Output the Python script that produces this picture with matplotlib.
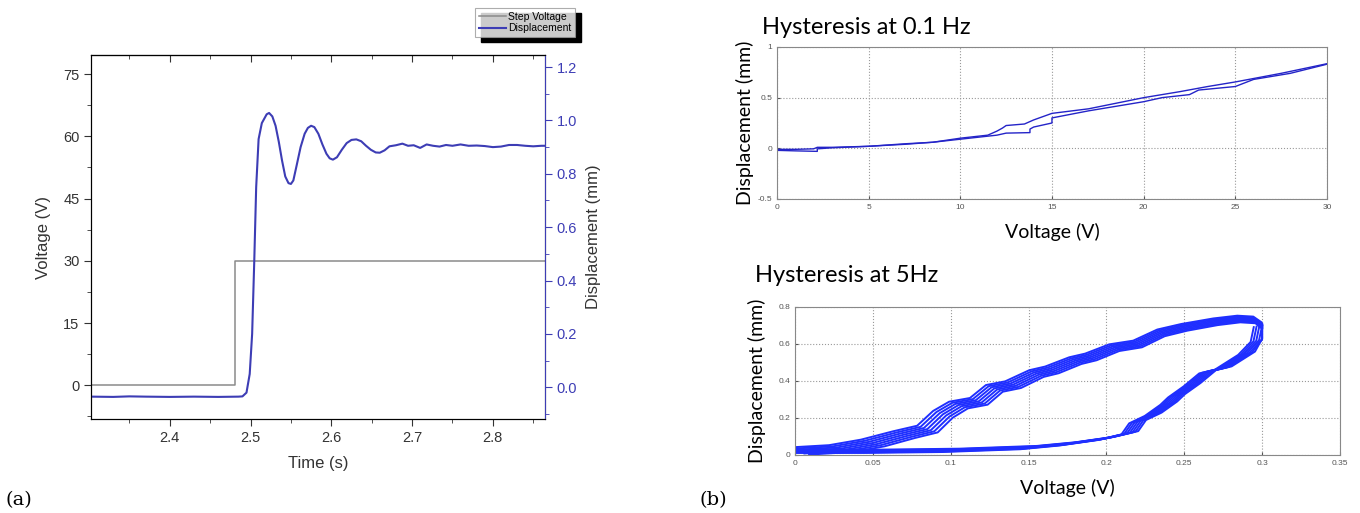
import matplotlib.pyplot as plt
import numpy as np
from matplotlib.patches import Rectangle
from matplotlib.transforms import IdentityTransform
from matplotlib.ticker import MultipleLocator

# ---- panel (a): step response ----
step_t = [2.303, 2.4806, 2.4806, 2.865]
step_v = [0, 0, 30, 30]

disp_t = [2.303, 2.33, 2.35, 2.37, 2.40, 2.43, 2.46, 2.485, 2.490, 2.495, 2.499,
          2.502, 2.5046, 2.507, 2.510, 2.514, 2.520, 2.523, 2.527, 2.531, 2.535,
          2.539, 2.543, 2.547, 2.550, 2.553, 2.557, 2.562, 2.567, 2.571, 2.575,
          2.579, 2.584, 2.589, 2.594, 2.598, 2.602, 2.607, 2.613, 2.619, 2.625,
          2.631, 2.637, 2.643, 2.649, 2.655, 2.660, 2.666, 2.672, 2.680, 2.688,
          2.695, 2.702, 2.710, 2.718, 2.726, 2.734, 2.742, 2.750, 2.760, 2.770,
          2.780, 2.790, 2.800, 2.810, 2.820, 2.830, 2.840, 2.850, 2.860, 2.865]
disp_mm = [-0.035, -0.036, -0.034, -0.035, -0.036, -0.035, -0.036, -0.035, -0.034,
           -0.02, 0.05, 0.20, 0.47, 0.75, 0.93, 0.99, 1.023, 1.028, 1.015, 0.98,
           0.92, 0.85, 0.79, 0.765, 0.762, 0.775, 0.83, 0.90, 0.95, 0.972, 0.98,
           0.975, 0.95, 0.91, 0.875, 0.858, 0.853, 0.862, 0.89, 0.915, 0.927,
           0.929, 0.922, 0.905, 0.89, 0.88, 0.879, 0.888, 0.903, 0.907, 0.913,
           0.905, 0.907, 0.897, 0.91, 0.905, 0.902, 0.908, 0.905, 0.91, 0.905,
           0.906, 0.904, 0.90, 0.902, 0.908, 0.908, 0.905, 0.903, 0.905, 0.905]

# ---- panel (b) top: hysteresis at 0.1 Hz ----
slow_up_v = [0, 1, 2, 2.2, 3, 5, 7, 8.5, 10, 11.5, 12, 12.3, 12.5, 13.5, 14,
             15, 17, 20, 22, 23.5, 25, 27.5, 30]
slow_up_d = [-0.01, -0.01, -0.005, 0.01, 0.01, 0.02, 0.04, 0.06, 0.10, 0.13,
             0.17, 0.2, 0.225, 0.24, 0.28, 0.345, 0.39, 0.50, 0.56, 0.61, 0.655,
             0.74, 0.835]
slow_dn_v = [30, 28, 26, 25, 23, 22.5, 21, 20, 17, 15, 15, 14, 13.8, 13.8, 12.5,
             12, 10, 8.5, 7, 5, 3, 2.2, 2.2, 1, 0]
slow_dn_d = [0.83, 0.74, 0.68, 0.61, 0.575, 0.53, 0.5, 0.46, 0.37, 0.30, 0.25,
             0.21, 0.19, 0.155, 0.15, 0.13, 0.09, 0.06, 0.045, 0.02, 0.005,
             -0.005, -0.03, -0.025, -0.02]

# ---- panel (b) bottom: hysteresis at 5 Hz ----
fast_up_v = [0.0, 0.03, 0.05, 0.07, 0.085, 0.095, 0.105, 0.118, 0.128, 0.14,
             0.155, 0.165, 0.18, 0.19, 0.205, 0.22, 0.235, 0.25, 0.27, 0.285,
             0.295, 0.30]
fast_up_d = [0.02, 0.035, 0.065, 0.11, 0.14, 0.22, 0.27, 0.29, 0.36, 0.38, 0.44,
             0.46, 0.51, 0.53, 0.58, 0.60, 0.66, 0.69, 0.72, 0.735, 0.73, 0.70]
fast_dn_v = [0.30, 0.298, 0.29, 0.275, 0.265, 0.255, 0.245, 0.24, 0.23, 0.22,
             0.215, 0.20, 0.175, 0.15, 0.10, 0.05, 0.0]
fast_dn_d = [0.70, 0.62, 0.55, 0.47, 0.45, 0.38, 0.32, 0.28, 0.22, 0.18, 0.12,
             0.09, 0.06, 0.04, 0.025, 0.02, 0.02]
# per-cycle drift of the 5 Hz loop (volts, mm)
cycle_dx = [-0.009, -0.006, -0.003, 0.0, 0.003, 0.006, 0.009]
cycle_dy = [0.018, 0.012, 0.006, 0.0, -0.006, -0.012, -0.018]

fig = plt.figure(figsize=(13.6, 5.13), dpi=100)
plt.rcParams['font.family'] = ['Liberation Sans', 'DejaVu Sans']

axa = fig.add_axes([0.0672, 0.1826, 0.3338, 0.7101])
axb = axa.twinx()
purple = '#3d3db5'
l1, = axa.plot(step_t, step_v, color='#8a8a8a', lw=1.1, label='Step Voltage')
l2, = axb.plot(disp_t, disp_mm, color=purple, lw=1.5, label='Displacement')
axa.set_xlim(2.303, 2.865)
axa.set_ylim(-8.2, 79.6)
axb.set_ylim(-0.12, 1.245)
axa.xaxis.set_major_locator(MultipleLocator(0.1))
axa.xaxis.set_minor_locator(MultipleLocator(0.05))
axa.yaxis.set_major_locator(MultipleLocator(15))
axa.yaxis.set_minor_locator(MultipleLocator(7.5))
axb.yaxis.set_major_locator(MultipleLocator(0.2))
axb.yaxis.set_minor_locator(MultipleLocator(0.1))
axa.tick_params(axis='both', which='both', labelsize=10.5, colors='#333333', direction='out')
axa.tick_params(which='major', length=5)
axa.tick_params(which='minor', length=3)
top = axa.secondary_xaxis('top')
top.xaxis.set_major_locator(MultipleLocator(0.1))
top.xaxis.set_minor_locator(MultipleLocator(0.05))
top.tick_params(which='both', direction='in', labeltop=False, colors='#333333')
top.tick_params(which='major', length=5)
top.tick_params(which='minor', length=3)
axb.tick_params(axis='y', which='both', colors=purple, labelsize=10.5, direction='out', pad=3)
axb.tick_params(which='major', length=5)
axb.tick_params(which='minor', length=3)
axb.spines['right'].set_color(purple)
axa.set_xlabel('Time (s)', fontsize=12, color='#333333')
axa.set_ylabel('Voltage (V)', fontsize=12, color='#333333')
axb.set_ylabel('Displacement (mm)', fontsize=12, color='#333333')
axa.xaxis.set_label_coords(0.5, -0.12)
axa.xaxis.label.set_va('center')
axa.yaxis.set_label_coords(-0.105, 0.5)
axa.yaxis.label.set_va('center')
axb.yaxis.set_label_coords(1.105, 0.5)
axb.yaxis.label.set_va('center')

leg = fig.legend(handles=[l1, l2], loc='upper left', bbox_to_anchor=(0.3493, 0.9844),
                 borderaxespad=0, fontsize=7.5, frameon=True, fancybox=False,
                 handlelength=2.6, handletextpad=0.2, borderpad=0.35, labelspacing=0.15)
leg.get_frame().set_edgecolor('#999999')
leg.get_frame().set_linewidth(0.8)
leg.set_zorder(5)

blue = '#1f2fff'

ax1 = fig.add_axes([0.5713, 0.6121, 0.4044, 0.2963])
ax1.plot(slow_up_v, slow_up_d, color='#2424c8', lw=1.0)
ax1.plot(slow_dn_v, slow_dn_d, color='#2424c8', lw=1.0)
ax1.set_xlim(0, 30)
ax1.set_ylim(-0.5, 1)
ax1.set_xticks([0, 5, 10, 15, 20, 25, 30])
ax1.set_yticks([-0.5, 0, 0.5, 1])
ax1.set_yticklabels(['-0.5', '0', '0.5', '1'])
ax1.grid(True, linestyle=':', color='#999999', lw=0.8)

ax2 = fig.add_axes([0.5846, 0.1131, 0.4007, 0.2885])
up_v = np.array(fast_up_v)
dn_v = np.array(fast_dn_v)
for dx, dy in zip(cycle_dx, cycle_dy):
    # drift fades out at the 0.3 V turning point
    ax2.plot(np.minimum(up_v + dx * (1 - up_v / 0.32), 0.3), np.array(fast_up_d) + dy,
             color=blue, lw=1.4)
    ax2.plot(np.minimum(dn_v - dx * 0.6, 0.3), np.array(fast_dn_d) + dy * 0.5,
             color=blue, lw=1.4)
ax2.set_xlim(0, 0.35)
ax2.set_ylim(0, 0.8)
ax2.set_xticks([0, 0.05, 0.1, 0.15, 0.2, 0.25, 0.3, 0.35])
ax2.set_xticklabels(['0', '0.05', '0.1', '0.15', '0.2', '0.25', '0.3', '0.35'])
ax2.set_yticks([0, 0.2, 0.4, 0.6, 0.8])
ax2.set_yticklabels(['0', '0.2', '0.4', '0.6', '0.8'])
ax2.grid(True, linestyle=':', color='#999999', lw=0.8)

for ax, ylx, xly in [(ax1, -0.058, -0.217), (ax2, -0.07, -0.223)]:
    ax.tick_params(labelsize=6, length=2, direction='in', colors='#555555')
    ax.set_xlabel('Voltage (V)', fontsize=14, family=['Lato', 'DejaVu Sans'])
    ax.set_ylabel('Displacement (mm)', fontsize=14, family=['Lato', 'DejaVu Sans'])
    ax.xaxis.set_label_coords(0.5, xly)
    ax.xaxis.label.set_va('center')
    ax.yaxis.set_label_coords(ylx, 0.5)
    ax.yaxis.label.set_va('center')
    for sp in ax.spines.values():
        sp.set_color('#888888')
        sp.set_linewidth(0.8)

fig.text(0.5603, 0.9337, 'Hysteresis at 0.1 Hz', fontsize=17, va='baseline',
         family=['Lato', 'DejaVu Sans'])
fig.text(0.5551, 0.4503, 'Hysteresis at 5Hz', fontsize=17, va='baseline',
         family=['Lato', 'DejaVu Sans'])

fig.text(0.004, 0.015, '(a)', fontsize=14, family=['DejaVu Serif'])
fig.text(0.514, 0.015, '(b)', fontsize=14, family=['DejaVu Serif'])

# black drop shadow behind the legend box
fig.canvas.draw()
bb = leg.get_window_extent()
fig.patches.append(Rectangle((bb.x0 + 6, bb.y0 - 5), bb.width, bb.height,
                             transform=IdentityTransform(), color='black', zorder=4))

fig.savefig('out.png', dpi=100)
